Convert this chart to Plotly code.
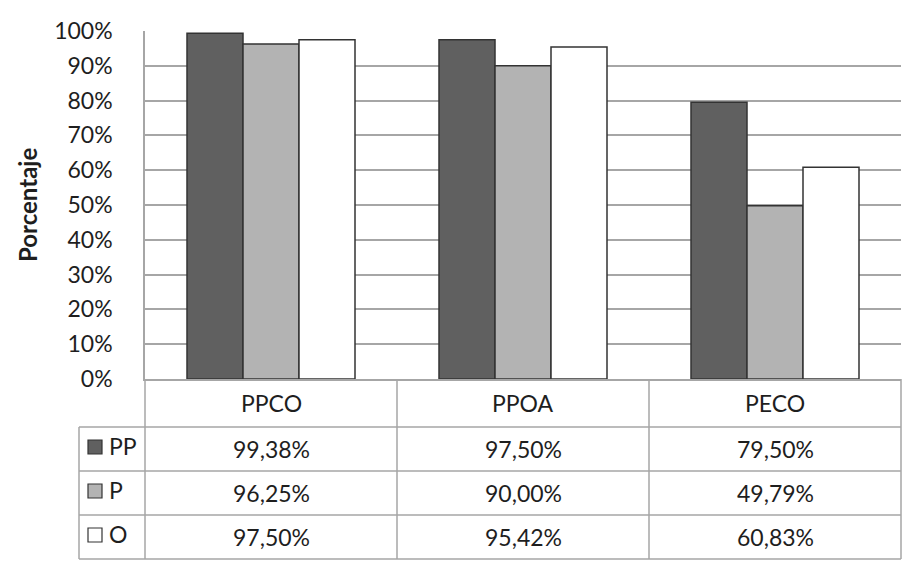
import plotly.graph_objects as go

# data
categories = ["PPCO", "PPOA", "PECO"]
series_names = ["PP", "P", "O"]
pp_values = [99.38, 97.50, 79.50]
p_values = [96.25, 90.00, 49.79]
o_values = [97.50, 95.42, 60.83]
y_ticks = list(range(0, 101, 10))

series_values = [pp_values, p_values, o_values]
series_colors = ["#606060", "#b3b3b3", "#ffffff"]

FONT = "Lato"
TXT = "#1e1e1e"
GRID = "#a6a6a6"
# page size, and the body margin the browser puts round the figure
PAGE_W, PAGE_H = 913, 573
OFF = 8
W, H = PAGE_W - 2 * OFF, PAGE_H - 2 * OFF
# plot area, in page pixels as measured on the picture
L, R, T, B = 145, 901, 31, 379


def px(x):
    return (x - L) / (R - L)


def py(y):
    return (B - y) / (B - T)


def fmt(v):
    return f"{v:.2f}".replace(".", ",") + "%"


fig = go.Figure()

for name, vals, color in zip(series_names, series_values, series_colors):
    fig.add_trace(go.Bar(
        x=categories,
        y=vals,
        name=name,
        marker=dict(color=color, line=dict(color="#333333", width=1.5)),
        hovertemplate=name + " %{x}: %{y:.2f}%<extra></extra>",
    ))

# data table under the chart
row_edges = [379, 427, 471, 515, 559]
col_edges = [145, 397, 649, 901]
legend_left = 79

shapes = []
line = dict(color=GRID, width=1.5)
# horizontal rules
for y in row_edges[1:]:
    shapes.append(dict(type="line", xref="paper", yref="paper",
                       x0=px(legend_left), x1=px(R), y0=py(y), y1=py(y), line=line))
# vertical rules
shapes.append(dict(type="line", xref="paper", yref="paper",
                   x0=px(legend_left), x1=px(legend_left),
                   y0=py(row_edges[1]), y1=py(row_edges[-1]), line=line))
for x in col_edges:
    shapes.append(dict(type="line", xref="paper", yref="paper",
                       x0=px(x), x1=px(x), y0=py(row_edges[0]), y1=py(row_edges[-1]),
                       line=line))

annotations = []
txt_font = dict(family=FONT, size=23, color=TXT)
for i, cat in enumerate(categories):
    cx = (col_edges[i] + col_edges[i + 1]) / 2
    cy = (row_edges[0] + row_edges[1]) / 2
    annotations.append(dict(xref="paper", yref="paper", x=px(cx), y=py(cy),
                            xanchor="center", yanchor="middle",
                            text=cat, showarrow=False, font=txt_font))

for r, (name, vals, color) in enumerate(zip(series_names, series_values, series_colors)):
    top, bot = row_edges[r + 1], row_edges[r + 2]
    cy = (top + bot) / 2
    # legend key
    shapes.append(dict(type="rect", xref="paper", yref="paper",
                       x0=px(88), x1=px(102), y0=py(cy + 5), y1=py(cy - 9),
                       fillcolor=color, line=dict(color="#333333", width=1.2)))
    annotations.append(dict(xref="paper", yref="paper", x=px(107), y=py(cy - 3),
                            xanchor="left", yanchor="middle",
                            text=name, showarrow=False, font=txt_font))
    for i, v in enumerate(vals):
        cx = (col_edges[i] + col_edges[i + 1]) / 2
        annotations.append(dict(xref="paper", yref="paper", x=px(cx), y=py(cy),
                                xanchor="center", yanchor="middle",
                                text=fmt(v), showarrow=False, font=txt_font))

# y axis title
annotations.append(dict(xref="paper", yref="paper", x=px(27), y=py(205),
                        xanchor="center", yanchor="middle",
                        text="<b>Porcentaje</b>", textangle=-90, showarrow=False,
                        font=dict(family=FONT, size=24, color=TXT)))

fig.update_layout(
    width=W,
    height=H,
    margin=dict(l=L - OFF, r=PAGE_W - OFF - R, t=T - OFF, b=PAGE_H - OFF - B),
    paper_bgcolor="white",
    plot_bgcolor="white",
    barmode="group",
    bargap=1 / 3,
    bargroupgap=0,
    showlegend=False,
    font=dict(family=FONT, size=23, color=TXT),
    shapes=shapes,
    annotations=annotations,
    xaxis=dict(showticklabels=False, showline=True, linecolor=GRID, linewidth=1.5,
               showgrid=False, ticks="", range=[-0.5, 2.5]),
    yaxis=dict(range=[0, 100], tickmode="array", tickvals=y_ticks,
               ticktext=[f"{v}%" for v in y_ticks],
               showgrid=True, gridcolor=GRID, gridwidth=1.5,
               showline=True, linecolor=GRID, linewidth=1.5,
               zeroline=False, ticks="", ticklabelstandoff=26,
               tickfont=dict(family=FONT, size=23, color=TXT)),
)

fig.write_html("out.html")
